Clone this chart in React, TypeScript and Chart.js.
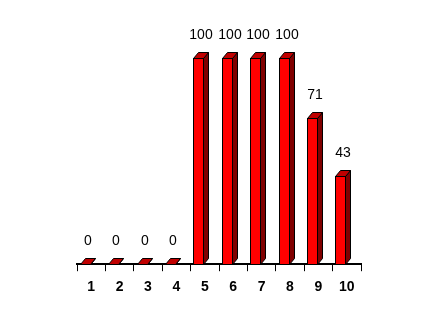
import React, { useEffect, useRef } from "react";
import { Chart, registerables } from "chart.js";

Chart.register(...registerables);

const categories = ["1", "2", "3", "4", "5", "6", "7", "8", "9", "10"];
const values = [0, 0, 0, 0, 100, 100, 100, 100, 71, 43];

const FRONT = "#ff0000";
const TOP = "#c00000";
const SIDE = "#800000";
const DEPTH_X = 5;
const DEPTH_Y = 6;
const FRONT_W = 10;

// Draws each bar as a small extruded block: front, right side and top face.
const blockBars = {
  id: "blockBars",
  afterDatasetsDraw(chart: any) {
    const ctx = chart.ctx as CanvasRenderingContext2D;
    const meta = chart.getDatasetMeta(0);
    ctx.save();
    ctx.lineWidth = 1;
    ctx.strokeStyle = "#000";
    ctx.lineJoin = "miter";
    meta.data.forEach((el: any, i: number) => {
      const left = Math.round(el.x - 11.5) + 0.5;
      const right = left + FRONT_W;
      const top = Math.round(el.y) + 0.5;
      const base = Math.round(el.base) + 0.5;

      // side face
      ctx.beginPath();
      ctx.moveTo(right, top);
      ctx.lineTo(right + DEPTH_X, top - DEPTH_Y);
      ctx.lineTo(right + DEPTH_X, base - DEPTH_Y);
      ctx.lineTo(right, base);
      ctx.closePath();
      ctx.fillStyle = SIDE;
      ctx.fill();
      ctx.stroke();

      // top face
      ctx.beginPath();
      ctx.moveTo(left, top);
      ctx.lineTo(left + DEPTH_X, top - DEPTH_Y);
      ctx.lineTo(right + DEPTH_X, top - DEPTH_Y);
      ctx.lineTo(right, top);
      ctx.closePath();
      ctx.fillStyle = TOP;
      ctx.fill();
      ctx.stroke();

      // front face
      if (base - top > 0) {
        ctx.fillStyle = FRONT;
        ctx.fillRect(left, top, FRONT_W, base - top);
        ctx.strokeRect(left, top, FRONT_W, base - top);
      }

      // value label
      ctx.fillStyle = "#000";
      ctx.font = "14px Arial, 'Liberation Sans', sans-serif";
      ctx.textAlign = "center";
      ctx.textBaseline = "alphabetic";
      ctx.fillText(
        String(values[i]),
        left + (FRONT_W + DEPTH_X) / 2,
        top - DEPTH_Y - 14
      );
    });
    ctx.restore();
  },
};

export default function App() {
  const canvasRef = useRef<HTMLCanvasElement | null>(null);

  useEffect(() => {
    document.body.style.margin = "0";
    const canvas = canvasRef.current;
    if (!canvas) return;
    const chart = new Chart(canvas, {
      type: "bar",
      data: {
        labels: categories,
        datasets: [
          {
            data: values,
            backgroundColor: "rgba(0,0,0,0)",
            borderWidth: 0,
          },
        ],
      },
      options: {
        animation: false,
        responsive: true,
        maintainAspectRatio: false,
        devicePixelRatio: 1,
        layout: { padding: { left: 77, right: 83, top: 58, bottom: 26 } },
        plugins: {
          legend: { display: false },
          tooltip: { enabled: false },
        },
        scales: {
          y: { display: false, min: 0, max: 100 },
          x: {
            offset: true,
            grid: {
              display: true,
              offset: true,
              drawOnChartArea: false,
              drawTicks: true,
              tickLength: 7,
              color: "#000",
              lineWidth: 1,
            },
            border: { display: true, color: "#000", width: 2 },
            ticks: {
              color: "#000",
              padding: 8,
              font: { family: "Arial, 'Liberation Sans', sans-serif", size: 14, weight: "bold" },
            },
          },
        },
      },
      plugins: [blockBars],
    });
    return () => chart.destroy();
  }, []);

  return (
    <div style={{ width: 444, height: 330, position: "relative", background: "#fff" }}>
      <canvas ref={canvasRef} />
    </div>
  );
}
